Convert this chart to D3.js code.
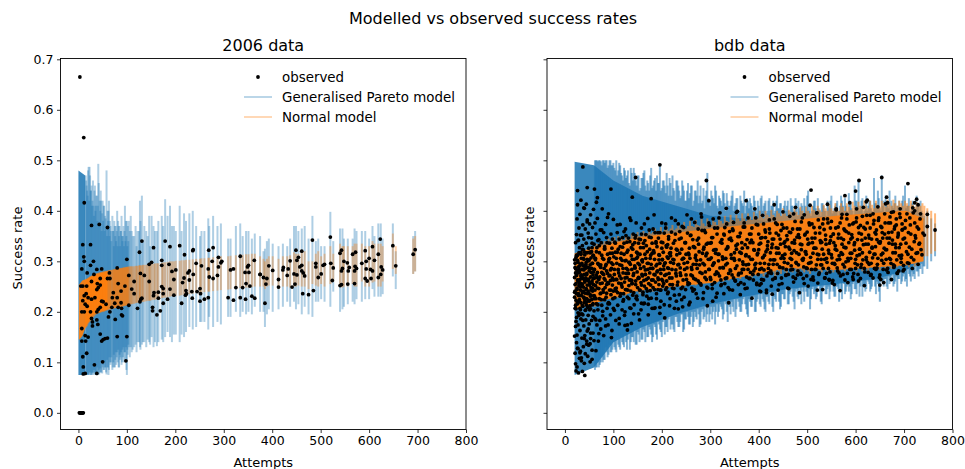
<!DOCTYPE html>
<html lang="en">
<head>
<meta charset="UTF-8">
<title>Modelled vs observed success rates</title>
<script src="https://cdn.jsdelivr.net/npm/d3@7"></script>
<style>
  body { margin: 0; background: #fff; }
  text { font-family: "DejaVu Sans", sans-serif; fill: #000; }
</style>
</head>
<body>
<div id="chart"></div>
<script>
// all values; the black mass on the right is only a best estimate
const xTicks = [0, 100, 200, 300, 400, 500, 600, 700, 800]
const yTicks = [0, 0.1, 0.2, 0.3, 0.4, 0.5, 0.6, 0.7]
const legendLabels = ['observed', 'Generalised Pareto model', 'Normal model']

// 2006 data, observed points
const obsX2006 = [3,11,12,27,43,60,2,3,4,5,6,7,8,9,10,
  9,25,131,179,155,189,209,236,237,269,278,126,219,11,12,31,25,100,172,276,289,296,294,334,363,146,151,172,187,243,254,351,349,
  7,38,48,80,18,32,64,201,193,229,226,268,289,314,320,344,352,375,104,128,136,237,270,287,278,45,60,65,27,96,115,146,197,218,229,215,82,
  39,45,41,38,5,9,17,172,175,189,110,72,88,234,222,223,245,252,251,325,339,346,354,165,156,155,175,115,197,16,12,20,27,34,70,80,131,165,
  235,221,309,320,334,345,358,364,268,260,251,9,14,18,48,51,57,75,88,104,184,175,127,129,213,69,82,89,122,153,153,41,45,38,7,12,25,65,
  169,162,89,91,62,76,27,29,29,40,38,7,14,20,45,80,100,7,15,48,51,55,60,17,9,50,98,10,33,14,10,38,
  483,520,623,449,461,543,540,572,566,592,607,619,600,649,695,691,655,393,401,437,454,451,461,457,422,423,433,431,445,451,464,461,467,
  382,375,389,413,413,387,385,441,447,463,475,485,495,501,505,508,490,490,521,526,524,540,543,556,570,543,545,548,555,559,557,571,570,574,
  585,594,594,603,607,611,592,596,604,619,624,628,625]
const obsY2006 = [.665,.545,.416,.371,.373,.367,0,0,0,0,0,0,0,0,0,
  .333,.333,.34,.34,.327,.329,.331,.321,.323,.322,.327,.318,.313,.309,.3,.3,.292,.304,.302,.3,.308,.3,.297,.31,.302,.294,.298,.292,.294,.296,.291,.292,.289,
  .285,.284,.285,.287,.277,.274,.277,.283,.28,.281,.277,.285,.289,.283,.285,.278,.278,.274,.272,.276,.272,.274,.269,.272,.266,.266,.266,.266,.26,.251,.26,.26,.264,.267,.263,.258,.256,
  .256,.253,.248,.244,.251,.251,.251,.25,.246,.245,.245,.238,.241,.24,.242,.236,.24,.236,.246,.248,.248,.256,.251,.239,.238,.232,.236,.236,.233,.236,.232,.228,.225,.228,.228,.228,.227,.227,
  .227,.233,.228,.223,.228,.225,.231,.227,.228,.225,.221,.222,.215,.211,.221,.22,.215,.217,.218,.213,.225,.217,.22,.225,.217,.209,.209,.207,.207,.209,.202,.205,.209,.2,.2,.2,.2,.2,
  .202,.194,.194,.192,.19,.185,.187,.18,.172,.175,.184,.167,.153,.15,.156,.151,.151,.142,.142,.142,.145,.147,.148,.118,.111,.101,.103,.091,.095,.078,.077,.078,
  .342,.348,.344,.322,.32,.322,.316,.318,.314,.321,.329,.314,.306,.331,.323,.314,.291,.291,.282,.301,.308,.302,.292,.289,.283,.288,.285,.272,.275,.273,.277,.281,.271,
  .268,.274,.266,.264,.249,.255,.217,.249,.255,.236,.234,.242,.268,.275,.292,.294,.296,.289,.296,.287,.262,.252,.254,.255,.256,.281,.286,.3,.297,.288,.281,.29,.281,.286,
  .296,.3,.285,.284,.281,.302,.266,.261,.266,.268,.274,.283,.289]

// 2006 data, intervals
const bandX2006 = [16,18,21,23,25,27,29,31,33,36, 38,41,44,47,50,53,55,58,60,62, 65,67,71,75,80,83,87,90,96,100,
  104,110,115,122,127,131,136,146,151,155, 162,165,172,175,179,184,189,193,197,201, 209,213,218,222,229,236,243,251,254,260,
  268,270,278,287,294,309,314,325,334,339, 346,351,358,364,375,382,385,389,393,401, 413,422,431,437,445,449,454,461,467,475,
  483,490,495,501,508,520,526,540,545,548, 556,566,570,574,585,592,600,607,611,619, 624,628,649,655,691,695,
  15,17,19,20,22,24,26,28,30,32, 34,35,37,39,40,42,43,45,46,48, 49,51,52,54,56,57,59,61,63,64,
  66,68,70,72,73,74,76,77,78,79, 81,82,84,85,86,88,89,91,92,93, 94,95,97,98,99,101,102,103,106,108,
  112,118,120,125,128,133,140,143,148,158]
const gpLo2006 = [.075,.075,.075,.08,.075,.075,.08,.08,.078,.08, .075,.076,.08,.08,.09,.085,.09,.076,.09,.075, .1,.1,.09,.09,.12,.09,.11,.1,.12,.075,
  .13,.12,.13,.14,.13,.135,.14,.14,.15,.13, .132,.14,.145,.14,.15,.16,.15,.14,.155,.155, .14,.155,.15,.16,.17,.165,.17,.18,.18,.18,
  .165,.19,.17,.18,.175,.19,.19,.2,.19,.2, .195,.2,.195,.21,.2,.2,.17,.195,.205,.2, .205,.21,.22,.21,.22,.205,.215,.195,.21,.195,
  .19,.22,.22,.225,.22,.21,.24,.2,.205,.21, .215,.22,.215,.225,.22,.225,.225,.245,.23,.23, .23,.235,.27,.245,.275,.28,
  .075,.075,.077,.075,.076,.08,.075,.078,.075,.085, .075,.08,.075,.09,.078,.085,.076,.088,.08,.1, .078,.095,.085,.1,.09,.08,.105,.09,.085,.11,
  .095,.11,.085,.1,.115,.09,.105,.12,.095,.11, .1,.125,.09,.115,.105,.12,.095,.125,.11,.13, .1,.12,.105,.13,.085,.125,.115,.135,.11,.13,
  .125,.135,.12,.14,.125,.14,.13,.145,.135,.14]
const gpHi2006 = [.46,.44,.487,.487,.44,.45,.42,.41,.44,.41, .43,.493,.42,.42,.42,.41,.39,.48,.4,.4, .38,.36,.36,.37,.4,.37,.36,.35,.41,.38,
  .38,.36,.35,.36,.42,.43,.37,.39,.39,.37, .36,.38,.39,.37,.423,.39,.41,.37,.37,.36, .41,.36,.395,.38,.395,.4,.37,.35,.36,.36,
  .385,.37,.39,.37,.375,.345,.345,.37,.375,.35, .36,.36,.345,.355,.35,.32,.325,.34,.345,.335, .33,.335,.33,.345,.37,.37,.36,.365,.37,.345,
  .39,.34,.345,.33,.33,.398,.34,.365,.365,.345, .345,.345,.365,.36,.36,.36,.345,.37,.35,.375, .375,.345,.375,.32,.35,.36,
  .47,.45,.43,.48,.42,.47,.44,.41,.46,.39, .45,.4,.43,.38,.41,.455,.37,.4,.44,.36, .395,.38,.41,.36,.385,.37,.35,.38,.42,.35,
  .37,.34,.39,.36,.33,.38,.35,.37,.34,.36, .33,.38,.35,.37,.33,.36,.39,.34,.35,.37, .33,.36,.34,.38,.35,.33,.37,.34,.36,.39,
  .35,.37,.33,.36,.38,.34,.36,.35,.33,.36]
const nLo2006 = [.17,.172,.178,.18,.182,.185,.188,.19,.192,.195, .196,.197,.198,.199,.2,.2,.202,.203,.204,.204, .205,.205,.206,.207,.208,.209,.21,.21,.212,.213,
  .214,.215,.216,.218,.219,.22,.22,.222,.223,.224, .225,.226,.227,.228,.228,.229,.23,.231,.231,.232, .232,.233,.234,.234,.235,.236,.237,.238,.238,.239,
  .24,.24,.241,.242,.243,.244,.245,.246,.247,.247, .248,.248,.249,.25,.25,.25,.245,.25,.252,.252, .245,.25,.25,.248,.25,.25,.252,.25,.25,.245,
  .255,.252,.25,.255,.25,.255,.26,.25,.248,.25, .25,.255,.25,.25,.26,.25,.25,.258,.26,.25, .25,.26,.285,.275,.275,.28,
  .168,.171,.175,.177,.18,.183,.186,.188,.19,.192, .194,.195,.196,.197,.197,.198,.198,.199,.199,.2, .2,.201,.201,.202,.202,.203,.203,.204,.205,.205,
  .205,.206,.206,.207,.207,.207,.208,.208,.208,.208, .209,.209,.209,.21,.21,.21,.21,.211,.211,.211, .212,.212,.212,.213,.213,.213,.214,.214,.214,.215,
  .216,.217,.218,.218,.219,.22,.221,.222,.222,.224]
const nHi2006 = [.262,.264,.266,.268,.27,.27,.272,.272,.274,.275, .276,.276,.277,.278,.278,.279,.28,.28,.281,.281, .282,.282,.283,.284,.285,.285,.286,.286,.287,.288,
  .288,.29,.29,.291,.292,.292,.293,.294,.295,.295, .296,.296,.297,.298,.298,.299,.3,.3,.3,.301, .301,.302,.302,.303,.303,.304,.305,.305,.306,.306,
  .307,.307,.308,.309,.31,.31,.311,.312,.313,.313, .314,.314,.315,.315,.31,.305,.3,.305,.31,.31, .305,.31,.31,.312,.318,.315,.315,.318,.32,.3,
  .3,.315,.32,.31,.315,.33,.315,.335,.33,.33, .33,.33,.335,.335,.335,.33,.33,.34,.335,.335, .335,.33,.355,.33,.345,.35,
  .262,.263,.265,.266,.268,.27,.27,.272,.272,.273, .274,.275,.276,.276,.277,.277,.278,.278,.278,.279, .279,.28,.28,.28,.281,.281,.281,.282,.282,.282,
  .283,.283,.283,.284,.284,.284,.285,.285,.285,.285, .285,.286,.286,.286,.286,.287,.287,.287,.287,.288, .288,.288,.288,.289,.289,.289,.289,.29,.29,.29,
  .29,.291,.291,.292,.292,.293,.293,.294,.294,.296]

// 2006 data, where the low attempt intervals pile up into a solid block
const gpCoreX2006 = [0, 14]
const gpCoreLo2006 = [.075, .075]
const gpCoreHi2006 = [.48, .47]
const nCoreX2006 = [1, 8, 16, 30, 60]
const nCoreLo2006 = [.144, .152, .172, .195, .205]
const nCoreHi2006 = [.253, .262, .265, .272, .28]

// bdb data, solid blocks
const gpCoreXBdb = [20, 60, 100, 160, 230, 300, 370, 460, 560, 640, 700, 740]
const gpCoreLoBdb = [.075, .09, .14, .17, .195, .215, .23, .245, .255, .265, .28, .305]
const gpCoreHiBdb = [.497, .49, .46, .43, .41, .39, .385, .375, .375, .375, .37, .35]
const nCoreXBdb = [20, 60, 157, 300, 462, 560, 703, 740]
const nCoreLoBdb = [.204, .217, .243, .257, .287, .283, .292, .3]
const nCoreHiBdb = [.316, .328, .348, .365, .381, .39, .4, .385]

// bdb data, intervals along the edge of the blocks
const bandXBdb = [62,66,70,74,78,82,86,90,94,98, 102,106,110,114,118,122,126,130,134,138, 142,146,150,154,158,162,166,170,174,178,
  182,186,190,194,198,202,206,210,214,218, 222,226,230,234,238,242,246,250,254,258, 262,266,270,274,278,282,286,290,294,298,
  302,306,310,314,318,322,326,330,334,338, 342,346,350,354,358,362,366,370,374,378, 382,386,390,394,398,402,406,410,414,418,
  422,426,430,434,438,442,446,450,454,458, 462,466,470,474,478,482,486,490,494,498, 502,506,510,514,518,522,526,530,534,538,
  542,546,550,554,558,562,566,570,574,578, 582,586,590,594,598,602,606,610,614,618, 622,626,630,634,638,642,646,650,654,658,
  662,666,670,674,678,682,686,690,694,698, 702,706,710,714,718,722,726,730,734,738, 742,748,756,764]
const gpLoBdb = [.085,.09,.09,.1,.1,.105,.12,.115,.12,.125, .13,.12,.135,.125,.14,.13,.14,.145,.125,.15, .14,.135,.16,.14,.145,.165,.14,.15,.17,.155,
  .15,.17,.145,.175,.16,.18,.155,.17,.185,.165, .175,.16,.19,.17,.18,.195,.165,.185,.19,.175, .2,.18,.19,.205,.17,.2,.185,.21,.195,.18,
  .21,.2,.175,.215,.2,.21,.185,.22,.2,.215, .195,.21,.225,.205,.22,.2,.215,.23,.205,.19, .22,.21,.23,.2,.225,.215,.235,.22,.2,.23,
  .215,.235,.2,.225,.24,.22,.21,.235,.225,.245, .215,.24,.23,.205,.245,.225,.235,.25,.22,.24, .23,.205,.245,.235,.225,.25,.24,.215,.25,.235,
  .245,.225,.255,.24,.23,.25,.22,.245,.26,.235, .25,.24,.225,.255,.245,.235,.26,.25,.23,.255, .245,.26,.24,.25,.265,.235,.255,.22,.26,.25,
  .265,.245,.255,.27,.25,.26,.24,.265,.255,.27, .26,.25,.275,.26,.27,.265,.28,.27,.285,.275, .29,.285,.3,.31]
const gpHiBdb = [.5,.5,.5,.498,.5,.495,.5,.49,.5,.49, .485,.5,.48,.49,.47,.485,.465,.48,.45,.475, .485,.46,.47,.44,.465,.475,.45,.46,.44,.485,
  .45,.465,.47,.455,.44,.46,.45,.475,.43,.455, .47,.44,.46,.45,.425,.46,.44,.42,.455,.435, .45,.42,.44,.46,.43,.415,.445,.43,.475,.42,
  .44,.425,.45,.41,.43,.42,.44,.415,.435,.41, .42,.44,.41,.425,.4,.43,.415,.44,.41,.42, .425,.41,.43,.405,.42,.4,.43,.41,.42,.4,
  .425,.41,.42,.4,.43,.405,.415,.4,.42,.41, .4,.425,.41,.4,.415,.42,.4,.41,.425,.4, .44,.41,.4,.42,.405,.425,.4,.415,.41,.4,
  .42,.405,.43,.4,.41,.42,.4,.43,.41,.425, .4,.435,.415,.4,.45,.42,.46,.41,.425,.4, .43,.41,.42,.4,.465,.415,.44,.405,.47,.42,
  .43,.41,.44,.42,.405,.43,.41,.42,.4,.43, .45,.41,.425,.4,.42,.405,.43,.41,.42,.395, .39,.4,.385,.375]
const nLoBdb = [.21,.215,.22,.22,.225,.22,.23,.225,.23,.232, .23,.235,.228,.24,.235,.24,.232,.24,.238,.24, .235,.245,.24,.235,.245,.24,.248,.24,.245,.25,
  .24,.25,.245,.252,.248,.245,.255,.25,.248,.255, .25,.258,.252,.25,.26,.255,.25,.26,.255,.262, .255,.26,.252,.262,.258,.255,.265,.258,.26,.265,
  .26,.268,.262,.258,.27,.265,.26,.27,.265,.262, .272,.268,.262,.275,.268,.265,.275,.27,.265,.278, .27,.268,.28,.272,.27,.282,.275,.27,.282,.278,
  .275,.285,.278,.27,.285,.28,.275,.288,.28,.275, .285,.28,.278,.288,.28,.275,.29,.282,.278,.29, .28,.275,.29,.285,.28,.29,.282,.278,.292,.285,
  .28,.292,.285,.278,.29,.285,.28,.292,.285,.28, .29,.285,.28,.295,.285,.28,.29,.285,.28,.295, .285,.28,.292,.288,.282,.295,.29,.282,.295,.29,
  .285,.298,.29,.285,.3,.292,.288,.298,.29,.288, .3,.292,.288,.3,.295,.29,.302,.295,.305,.3, .31,.31,.315,.32]
const nHiBdb = [.33,.335,.33,.338,.335,.34,.338,.345,.34,.342, .348,.34,.35,.345,.348,.342,.352,.348,.345,.355, .35,.348,.358,.35,.352,.36,.352,.355,.362,.355,
  .358,.365,.355,.36,.368,.358,.362,.37,.36,.365, .372,.362,.365,.375,.365,.368,.378,.365,.37,.38, .37,.368,.382,.372,.37,.384,.375,.37,.385,.375,
  .372,.388,.378,.372,.39,.38,.375,.39,.38,.378, .392,.382,.378,.392,.385,.38,.395,.385,.38,.395, .388,.382,.398,.39,.385,.4,.39,.385,.4,.392,
  .388,.402,.392,.388,.4,.395,.39,.405,.395,.39, .402,.398,.392,.405,.398,.392,.408,.4,.395,.408, .4,.395,.41,.402,.398,.41,.402,.398,.412,.405,
  .4,.412,.405,.4,.415,.405,.4,.415,.408,.4, .415,.408,.402,.418,.41,.405,.418,.41,.405,.42, .41,.405,.42,.412,.405,.42,.412,.408,.42,.415,
  .408,.422,.415,.41,.422,.415,.41,.42,.415,.41, .42,.415,.41,.42,.412,.408,.418,.412,.41,.415, .41,.405,.4,.395]

// bdb data, more blue intervals between the ones above (only the blue shows here)
const extraXBdb = [64,68,72,76,80,84,88,92,96,100, 104,108,112,116,120,124,128,132,136,140, 144,148,152,156,160,164,168,172,176,180,
  184,188,192,196,200,204,208,212,216,220, 224,228,232,236,240,244,248,252,256,260, 264,268,272,276,280,284,288,292,296,300,
  304,308,312,316,320,324,328,332,336,340, 344,348,352,356,360,364,368,372,376,380, 384,388,392,396,400,404,408,412,416,420,
  424,428,432,436,440,444,448,452,456,460, 464,468,472,476,480,484,488,492,496,500, 504,508,512,516,520,524,528,532,536,540,
  544,548,552,556,560,564,568,572,576,580, 584,588,592,596,600,604,608,612,616,620, 624,628,632,636,640,644,648,652,656,660,
  664,668,672,676,680,684,688,692,696,700, 704,708,712,716,720,724,728,732,736,740]
const extraLoBdb = [.09,.1,.095,.11,.105,.13,.11,.135,.12,.14, .125,.145,.13,.15,.135,.155,.125,.16,.14,.15, .165,.135,.155,.17,.145,.16,.175,.15,.165,.14,
  .175,.155,.18,.165,.15,.185,.17,.16,.19,.175, .165,.19,.18,.17,.195,.16,.185,.2,.175,.19, .17,.2,.185,.195,.175,.205,.19,.18,.21,.195,
  .185,.21,.2,.19,.215,.205,.195,.215,.18,.21, .22,.2,.19,.225,.21,.2,.225,.215,.195,.225, .21,.23,.2,.22,.235,.21,.225,.205,.23,.22,
  .24,.21,.23,.22,.24,.205,.235,.225,.245,.215, .235,.25,.22,.24,.23,.25,.215,.24,.255,.23, .245,.225,.25,.24,.23,.255,.22,.245,.26,.235,
  .25,.24,.26,.23,.25,.245,.26,.225,.255,.24, .26,.25,.235,.265,.245,.255,.23,.265,.25,.24, .265,.255,.245,.27,.25,.26,.24,.27,.255,.265,
  .25,.27,.26,.275,.255,.27,.265,.28,.26,.275, .265,.285,.27,.28,.275,.29,.28,.285,.295,.29]
const extraHiBdb = [.5,.498,.5,.49,.5,.5,.485,.5,.49,.495, .48,.47,.495,.475,.46,.48,.47,.455,.485,.46, .475,.45,.47,.445,.465,.48,.44,.455,.47,.445,
  .46,.44,.455,.49,.445,.46,.435,.45,.465,.43, .445,.42,.46,.44,.43,.45,.42,.44,.425,.45, .41,.44,.43,.415,.45,.42,.405,.44,.425,.41,
  .43,.415,.44,.405,.425,.41,.435,.4,.42,.41, .43,.4,.415,.425,.4,.42,.41,.395,.425,.405, .415,.4,.42,.395,.41,.425,.4,.415,.395,.42,
  .4,.41,.395,.42,.405,.415,.39,.41,.4,.42, .395,.41,.4,.425,.39,.405,.415,.395,.41,.43, .4,.39,.41,.42,.395,.405,.39,.415,.4,.39,
  .41,.42,.395,.405,.415,.39,.41,.42,.4,.41, .395,.42,.405,.39,.42,.41,.4,.42,.395,.41, .4,.42,.405,.395,.415,.41,.425,.4,.41,.395,
  .42,.405,.395,.41,.415,.4,.41,.395,.42,.4, .405,.41,.39,.415,.4,.395,.41,.39,.4,.385]

// bdb data, observed points
const obsXBdb = [20,20,21,21,21,22,22,22,23,23,23,24,24,24,25,25,25,26,26,26,
  26,27,27,27,28,28,28,29,29,29,30,30,30,30,31,31,31,32,32,32,
  33,33,33,34,34,34,35,35,35,36,36,36,37,37,37,38,38,38,39,39,
  39,40,40,40,41,41,41,42,42,42,43,43,44,44,44,45,45,45,46,46,
  46,47,47,48,48,48,49,49,50,50,50,51,51,52,52,53,53,53,54,54,
  55,55,56,56,56,57,57,58,58,59,59,60,60,60,61,61,62,62,63,63,
  64,64,65,65,66,66,67,67,68,68,69,70,70,71,71,72,73,73,74,74,
  75,76,76,77,78,78,79,80,80,81,82,82,83,84,84,85,86,86,87,88,
  88,89,90,90,91,92,92,93,94,95,95,96,97,98,98,99,100,100,102,103,
  104,105,106,107,108,109,110,111,112,113,114,115,116,117,118,119,120,121,122,123,
  124,125,126,127,128,129,130,131,132,133,134,135,136,137,138,139,140,141,142,143,
  144,145,146,147,148,149,150,151,152,153,154,155,156,157,158,159,160,161,162,163,
  164,165,166,167,168,170,171,172,173,175,176,177,178,180,181,182,184,185,186,188,
  189,190,192,193,194,196,197,198,200,201,202,204,205,206,208,209,210,212,213,214,
  216,217,218,220,221,222,224,225,226,228,229,230,232,233,234,236,237,238,240,241,
  242,244,245,246,248,249,250,252,253,254,256,257,258,260,261,262,264,265,266,268,
  270,271,273,275,276,278,280,281,283,285,286,288,290,292,293,295,297,298,300,302,
  304,305,307,309,310,312,314,316,318,320,322,324,326,328,330,332,334,336,338,340,
  342,344,346,348,350,352,354,356,358,360,362,364,366,368,370,372,374,376,378,380,
  382,384,386,388,390,392,394,396,398,400,402,404,406,408,410,412,414,416,418,420,
  422,424,426,428,430,432,434,436,438,440,442,444,446,448,450,452,454,456,458,460,
  462,464,466,468,470,472,474,476,478,480,482,484,486,488,490,492,494,496,498,500,
  502,504,506,508,510,512,514,516,518,520,522,524,526,528,530,532,534,536,538,540,
  542,544,546,548,550,552,554,556,558,560,562,564,566,568,570,572,574,576,578,580,
  582,584,586,588,590,592,594,596,598,600,602,604,606,608,610,612,614,616,618,620,
  622,624,626,628,630,632,634,636,638,640,642,644,646,648,650,652,654,656,658,660,
  662,664,666,668,670,672,674,676,678,680,682,684,686,688,690,692,694,696,698,700,
  702,704,706,708,710,712,714,716,718,720,722,724,726,728,730,732,734,737,742,748,
  748,764,37,196,146,292,26,46,61,95,139,178,297,333,67,65,129,137,230,243,
  305,196,184,172,158,124,56,41,374,508,607,654,708,600,578,622,664,722,729,722,
  521,428,404,402,650,545]
const obsYBdb = [.303,.152,.207,.254,.118,.286,.097,.337,.223,.181,.083,.272,.353,.139,.244,.384,.091,.216,.312,.412,
  .263,.174,.298,.127,.236,.342,.079,.193,.284,.366,.221,.108,.327,.258,.163,.393,.291,.204,.249,.122,
  .314,.186,.421,.273,.103,.232,.352,.148,.296,.212,.331,.082,.267,.194,.372,.131,.306,.241,.172,.344,
  .283,.098,.227,.405,.318,.153,.262,.203,.364,.117,.293,.184,.246,.413,.336,.142,.274,.213,.382,.162,
  .304,.236,.112,.356,.193,.264,.134,.326,.221,.287,.176,.374,.253,.101,.317,.206,.392,.147,.278,.233,
  .346,.183,.296,.124,.257,.367,.214,.312,.158,.266,.403,.202,.334,.143,.284,.231,.376,.187,.306,.252,
  .123,.354,.216,.273,.327,.174,.247,.385,.204,.296,.142,.343,.264,.226,.317,.183,.362,.256,.293,.166,
  .337,.213,.278,.404,.192,.306,.244,.357,.153,.286,.224,.326,.263,.373,.186,.294,.237,.347,.207,.276,
  .314,.174,.256,.394,.304,.216,.336,.272,.194,.354,.243,.297,.163,.316,.267,.226,.383,.207,.284,.338,
  .246,.183,.306,.264,.357,.213,.324,.277,.176,.293,.373,.236,.316,.253,.204,.347,.286,.224,.336,.193,
  .267,.364,.302,.244,.318,.174,.283,.346,.226,.263,.386,.294,.207,.327,.256,.304,.233,.354,.276,.214,
  .337,.287,.254,.376,.306,.224,.316,.266,.196,.344,.293,.243,.327,.204,.366,.274,.303,.234,.336,.262,
  .217,.314,.283,.353,.246,.296,.385,.267,.226,.324,.306,.253,.347,.207,.286,.364,.317,.244,.273,.336,
  .226,.294,.357,.264,.313,.197,.284,.243,.376,.304,.337,.256,.214,.296,.366,.274,.328,.236,.306,.344,
  .267,.226,.317,.386,.284,.247,.336,.303,.207,.354,.276,.324,.253,.293,.374,.234,.316,.277,.346,.224,
  .304,.263,.367,.296,.337,.244,.314,.287,.356,.254,.214,.326,.306,.273,.384,.247,.343,.294,.266,.327,
  .312,.236,.286,.364,.334,.257,.303,.394,.276,.226,.324,.293,.357,.264,.316,.247,.376,.284,.336,.307,
  .254,.347,.296,.366,.274,.323,.237,.314,.386,.287,.263,.336,.304,.354,.256,.293,.374,.327,.276,.244,
  .346,.306,.364,.267,.317,.286,.397,.334,.254,.303,.356,.277,.326,.294,.376,.246,.313,.343,.284,.266,
  .337,.304,.366,.274,.323,.293,.386,.257,.316,.354,.284,.336,.264,.307,.374,.296,.347,.243,.324,.286,
  .364,.317,.276,.334,.303,.384,.267,.356,.294,.326,.254,.344,.306,.373,.287,.336,.314,.273,.366,.296,
  .246,.324,.357,.304,.284,.394,.336,.266,.317,.364,.293,.347,.276,.323,.386,.306,.256,.354,.314,.286,
  .334,.376,.297,.264,.346,.316,.367,.284,.326,.396,.304,.274,.356,.337,.293,.374,.314,.267,.343,.306,
  .384,.286,.336,.366,.313,.257,.354,.296,.324,.404,.303,.346,.277,.376,.317,.334,.294,.364,.263,.327,
  .393,.306,.356,.284,.344,.316,.374,.276,.337,.304,.386,.293,.367,.324,.266,.354,.317,.407,.286,.346,
  .303,.376,.334,.294,.366,.274,.326,.394,.314,.357,.284,.343,.306,.386,.336,.264,.367,.316,.296,.354,
  .414,.323,.286,.376,.346,.304,.397,.334,.293,.364,.317,.384,.276,.356,.327,.404,.306,.374,.344,.284,
  .366,.336,.394,.314,.296,.386,.354,.324,.406,.303,.376,.346,.423,.317,.364,.336,.394,.313,.352,.393,
  .369,.362,.487,.491,.466,.46,.44,.446,.443,.443,.427,.424,.42,.405,.426,.417,.164,.177,.221,.21,
  .221,.209,.207,.215,.217,.2,.106,.074,.42,.441,.46,.466,.454,.439,.43,.418,.427,.416,.412,.4,
  .243,.235,.24,.253,.253,.264]

// bdb data, the thick middle of the cloud
const denseXBdb = [20,20,21,21,22,22,23,23,24,24,25,25,26,26,27,27,28,28,29,29,
  30,30,31,31,32,32,33,33,34,34,35,35,36,36,37,37,38,38,39,39,
  40,40,41,41,42,42,43,43,44,44,45,45,46,46,47,47,48,48,49,49,
  50,50,51,51,52,52,53,53,54,54,55,55,56,56,57,57,58,58,59,59,
  60,60,61,62,63,64,65,66,67,68,69,70,71,72,73,74,75,76,77,78,
  79,80,81,82,83,84,85,86,87,88,89,90,91,92,93,94,95,96,97,98,
  99,100,101,102,103,104,105,106,107,108,109,110,111,112,113,114,115,116,117,118,
  119,120,121,122,123,124,125,126,127,128,129,130,131,132,133,134,135,136,137,138,
  139,140,141,142,143,144,145,146,147,148,149,150,151,152,153,154,155,156,157,158,
  159,160,161,162,163,164,165,166,167,168,169,170,171,172,173,174,175,176,177,178,
  179,180,181,182,183,184,185,186,187,188,189,190,191,192,193,194,195,196,197,198,
  199,200,201,202,203,204,205,206,207,208,209,210,211,212,213,214,215,216,217,218,
  219,221,223,225,227,229,231,233,235,237,239,241,243,245,247,249,251,253,255,257,
  259,261,263,265,267,269,271,273,275,277,279,281,283,285,287,289,291,293,295,297,
  299,301,303,305,307,309,311,313,315,317,319,321,323,325,327,329,331,333,335,337,
  339,341,343,345,347,349,351,353,355,357,359,361,363,365,367,369,371,373,375,377,
  379,381,383,385,387,389,391,393,395,397,399,401,403,405,407,409,411,413,415,417,
  419,421,423,425,427,429,431,433,435,437,439,441,443,445,447,449,451,453,455,457,
  459,461,463,465,467,469,471,473,475,477,479,481,483,485,487,489,491,493,495,497,
  499,501,503,505,507,509,511,513,515,517,519,521,523,525,527,529,531,533,535,537,
  539,541,543,545,547,549,551,553,555,557,559,561,563,565,567,569,571,573,575,577,
  579,581,583,585,587,589,591,593,595,597,599,601,603,605,607,609,611,613,615,617,
  619,621,623,625,627,629,631,633,635,637,639,641,643,645,647,649,651,653,655,657,
  659,661,663,665,667,669,671,673,675,677,679,681,683,685,687,689,691,693,695,697,
  699,701,703,705,707,709,711,713,715,717,719,721,723,725,727,729,731,733,735,739]
const denseYBdb = [.268,.229,.241,.296,.213,.277,.256,.308,.236,.189,.282,.247,.219,.302,.261,.198,.289,.233,.317,.252,
  .224,.279,.264,.207,.294,.243,.271,.218,.306,.256,.196,.284,.238,.323,.266,.211,.291,.249,.229,.304,
  .274,.218,.259,.313,.237,.286,.204,.267,.244,.298,.226,.276,.317,.253,.209,.288,.241,.264,.301,.223,
  .281,.236,.318,.258,.212,.293,.269,.231,.307,.248,.224,.286,.261,.327,.241,.296,.216,.273,.254,.311,
  .232,.284,.267,.243,.303,.226,.319,.259,.278,.214,.294,.246,.331,.269,.236,.288,.224,.312,.257,.276,
  .239,.304,.266,.324,.248,.291,.229,.281,.337,.258,.216,.299,.271,.243,.316,.262,.234,.286,.326,.253,
  .294,.241,.309,.274,.228,.336,.264,.247,.296,.318,.238,.283,.257,.344,.271,.231,.306,.266,.292,.249,
  .328,.277,.236,.314,.259,.301,.244,.351,.286,.268,.229,.322,.276,.252,.298,.339,.263,.241,.311,.284,
  .256,.333,.272,.238,.304,.291,.346,.261,.227,.318,.279,.248,.296,.336,.267,.243,.314,.286,.258,.354,
  .302,.271,.239,.327,.289,.251,.341,.274,.306,.264,.231,.319,.284,.296,.256,.348,.277,.242,.312,.294,
  .263,.336,.286,.248,.321,.274,.304,.357,.259,.291,.236,.329,.281,.267,.346,.254,.312,.296,.243,.276,
  .338,.264,.303,.251,.318,.284,.356,.272,.297,.244,.331,.261,.309,.287,.239,.349,.276,.316,.254,.298,
  .326,.267,.304,.246,.341,.283,.313,.259,.294,.359,.272,.324,.249,.306,.284,.337,.264,.298,.316,.256,
  .351,.288,.271,.329,.244,.307,.294,.342,.261,.319,.278,.253,.361,.296,.328,.268,.311,.249,.336,.284,
  .304,.264,.347,.292,.322,.258,.316,.279,.366,.301,.271,.338,.254,.309,.287,.352,.266,.324,.296,.248,
  .344,.283,.313,.273,.361,.306,.262,.331,.291,.349,.276,.318,.258,.337,.299,.284,.368,.311,.269,.327,
  .294,.354,.278,.342,.304,.263,.322,.286,.373,.313,.274,.334,.296,.256,.347,.308,.283,.362,.319,.271,
  .339,.294,.356,.281,.327,.264,.344,.303,.376,.316,.276,.352,.289,.334,.267,.311,.366,.298,.329,.284,
  .343,.274,.358,.306,.291,.337,.269,.321,.379,.298,.348,.281,.314,.364,.274,.333,.302,.289,.352,.319,
  .271,.344,.296,.372,.308,.284,.337,.263,.326,.356,.293,.314,.382,.277,.341,.304,.324,.286,.363,.267,
  .334,.298,.376,.316,.279,.349,.307,.262,.337,.294,.366,.322,.281,.354,.304,.271,.386,.314,.343,.289,
  .327,.359,.276,.301,.372,.316,.284,.347,.264,.333,.296,.378,.311,.274,.356,.324,.288,.342,.303,.367,
  .279,.334,.391,.298,.352,.318,.272,.344,.307,.374,.286,.329,.362,.294,.381,.268,.339,.313,.357,.284,
  .326,.376,.304,.346,.278,.336,.388,.296,.358,.317,.288,.369,.327,.303,.348,.281,.394,.334,.312,.363,
  .292,.346,.381,.319,.297,.357,.328,.372,.308,.286,.396,.339,.351,.316,.368,.294,.334,.384,.323,.356]

// bdb data, a further layer of the cloud
const cloudXBdb = [20,22,24,26,28,30,32,34,36,38,40,42,44,46,48,50,52,54,56,58,
  21,23,25,27,29,31,33,35,37,39,41,43,45,47,49,51,53,55,57,59,
  60,62,64,66,68,70,72,74,76,78,80,82,84,86,88,90,92,94,96,98,
  100,102,104,106,108,110,112,114,116,118,120,122,124,126,128,130,132,134,136,138,
  140,142,144,146,148,150,152,154,156,158,160,162,164,166,168,170,172,174,176,178,
  180,182,184,186,188,190,192,194,196,198,200,202,204,206,208,210,212,214,216,218,
  220,222,224,226,228,230,232,234,236,238,240,242,244,246,248,250,252,254,256,258,
  260,262,264,266,268,270,272,274,276,278,280,282,284,286,288,290,292,294,296,298,
  300,302,304,306,308,310,312,314,316,318,320,322,324,326,328,330,332,334,336,338,
  340,342,344,346,348,350,352,354,356,358,360,362,364,366,368,370,372,374,376,378,
  380,382,384,386,388,390,392,394,396,398,400,402,404,406,408,410,412,414,416,418,
  420,422,424,426,428,430,432,434,436,438,440,442,444,446,448,450,452,454,456,458,
  460,462,464,466,468,470,472,474,476,478,480,482,484,486,488,490,492,494,496,498,
  500,502,504,506,508,510,512,514,516,518,520,522,524,526,528,530,532,534,536,538,
  540,542,544,546,548,550,552,554,556,558,560,562,564,566,568,570,572,574,576,578,
  580,582,584,586,588,590,592,594,596,598,600,602,604,606,608,610,612,614,616,618,
  620,622,624,626,628,630,632,634,636,638,640,642,644,646,648,650,652,654,656,658,
  660,662,664,666,668,670,672,674,676,678,680,682,684,686,688,690,692,694,696,698]
const cloudYBdb = [.239,.171,.312,.128,.277,.196,.352,.109,.254,.323,.147,.288,.219,.378,.166,.303,.137,.243,.336,.191,
  .288,.206,.154,.341,.232,.119,.317,.268,.183,.406,.224,.293,.136,.262,.347,.204,.158,.319,.247,.279,
  .226,.306,.184,.268,.341,.157,.291,.237,.362,.201,.274,.329,.172,.254,.387,.218,.306,.283,.149,.344,
  .263,.203,.318,.241,.372,.284,.187,.329,.256,.302,.221,.359,.173,.276,.338,.243,.298,.208,.381,.262,
  .324,.196,.287,.351,.231,.309,.268,.184,.343,.253,.299,.216,.374,.274,.331,.241,.194,.362,.286,.227,
  .316,.263,.392,.208,.339,.279,.244,.303,.357,.221,.326,.261,.291,.188,.374,.248,.333,.286,.212,.311,
  .358,.254,.296,.233,.381,.271,.322,.206,.344,.287,.246,.369,.306,.229,.337,.273,.392,.258,.313,.219,
  .352,.284,.241,.329,.377,.264,.302,.227,.346,.293,.256,.388,.316,.238,.361,.279,.334,.212,.304,.371,
  .268,.337,.246,.384,.297,.323,.229,.354,.276,.314,.396,.252,.343,.288,.236,.367,.306,.267,.329,.218,
  .359,.281,.341,.243,.377,.302,.261,.324,.399,.273,.349,.234,.316,.284,.368,.255,.333,.293,.247,.386,
  .309,.266,.354,.227,.337,.281,.404,.296,.254,.372,.323,.241,.346,.286,.391,.263,.312,.358,.238,.331,
  .277,.382,.303,.251,.344,.294,.412,.267,.327,.373,.243,.316,.288,.361,.256,.398,.306,.339,.272,.351,
  .247,.328,.389,.283,.316,.364,.259,.342,.407,.296,.273,.353,.238,.334,.378,.304,.266,.392,.319,.287,
  .358,.251,.336,.411,.298,.374,.269,.326,.346,.284,.396,.257,.313,.367,.293,.338,.244,.384,.304,.352,
  .276,.413,.322,.263,.341,.379,.296,.354,.254,.331,.402,.287,.368,.311,.242,.346,.393,.274,.328,.361,
  .299,.384,.258,.337,.416,.306,.353,.269,.376,.322,.286,.404,.343,.261,.313,.371,.294,.389,.333,.252,
  .364,.308,.421,.278,.346,.391,.296,.328,.267,.381,.314,.354,.287,.408,.338,.273,.369,.302,.346,.258,
  .394,.323,.283,.416,.357,.306,.376,.264,.342,.398,.291,.334,.372,.277,.352,.311,.387,.298,.362,.281]

const W = 965, H = 469
const plotTop = 58.5, plotBottom = 429.5
const panels = [
  { left: 60.5, title: '2006 data', labels: true, x: obsX2006, y: obsY2006, lineAlpha: 0.36,
    bx: bandX2006, gl: gpLo2006, gh: gpHi2006, nl: nLo2006, nh: nHi2006, extra: null,
    gc: [gpCoreX2006, gpCoreLo2006, gpCoreHi2006], nc: [nCoreX2006, nCoreLo2006, nCoreHi2006] },
  { left: 547, title: 'bdb data', labels: false, lineAlpha: 0.55,
    x: obsXBdb.concat(denseXBdb, cloudXBdb), y: obsYBdb.concat(denseYBdb, cloudYBdb),
    bx: bandXBdb, gl: gpLoBdb, gh: gpHiBdb, nl: nLoBdb, nh: nHiBdb, extra: [extraXBdb, extraLoBdb, extraHiBdb],
    gc: [gpCoreXBdb, gpCoreLoBdb, gpCoreHiBdb], nc: [nCoreXBdb, nCoreLoBdb, nCoreHiBdb] }
]
const panelW = 405.5
const blue = '#1f77b4', orange = '#ff7f0e'

const svg = d3.select('#chart').append('svg')
  .attr('width', W)
  .attr('height', H)
  .style('display', 'block')

svg.append('text')
  .attr('x', 493)
  .attr('y', 24)
  .attr('text-anchor', 'middle')
  .attr('font-size', 16)
  .text('Modelled vs observed success rates')

panels.forEach(p => {
  let xScale = d3.scaleLinear().domain([-37, 800]).range([p.left, p.left + panelW])
  let yScale = d3.scaleLinear().domain([-0.033, 0.7016]).range([plotBottom, plotTop])
  let g = svg.append('g')

  //solid blocks first, the thin lines then roughen their edges
  let drawCore = (core, color, opacity) => {
    let area = d3.area()
      .x(i => xScale(core[0][i]))
      .y0(i => yScale(core[1][i]))
      .y1(i => yScale(core[2][i]))
    g.append('path')
      .attr('d', area(d3.range(core[0].length)))
      .attr('fill', color)
      .attr('opacity', opacity)
  }
  let drawLines = (xs, lo, hi, color) => {
    g.append('g').selectAll('line')
      .data(xs)
      .enter()
      .append('line')
      .attr('x1', d => xScale(d))
      .attr('x2', d => xScale(d))
      .attr('y1', (d, i) => yScale(lo[i]))
      .attr('y2', (d, i) => yScale(hi[i]))
      .attr('stroke', color)
      .attr('stroke-width', 2)
      .attr('stroke-opacity', p.lineAlpha)
  }

  drawCore(p.gc, blue, 0.88)
  drawLines(p.bx, p.gl, p.gh, blue)
  if (p.extra) drawLines(p.extra[0], p.extra[1], p.extra[2], blue)
  drawCore(p.nc, orange, 0.92)
  drawLines(p.bx, p.nl, p.nh, orange)

  g.append('g').selectAll('circle')
    .data(p.x)
    .enter()
    .append('circle')
    .attr('cx', d => xScale(d))
    .attr('cy', (d, i) => yScale(p.y[i]))
    .attr('r', 1.9)
    .attr('fill', '#000')

  //frame and axes
  g.append('rect')
    .attr('x', p.left)
    .attr('y', plotTop)
    .attr('width', panelW)
    .attr('height', plotBottom - plotTop)
    .attr('fill', 'none')
    .attr('stroke', '#000')
    .attr('stroke-width', 0.9)

  let xAxis = d3.axisBottom(xScale).tickValues(xTicks).tickSize(3.5).tickPadding(3.5).tickFormat(d3.format('d'))
  let xg = g.append('g').attr('transform', `translate(0,${plotBottom})`).call(xAxis)
  let yAxis = d3.axisLeft(yScale).tickValues(yTicks).tickSize(3.5).tickPadding(3.5)
    .tickFormat(p.labels ? d3.format('.1f') : '')
  let yg = g.append('g').attr('transform', `translate(${p.left},0)`).call(yAxis)
  ;[xg, yg].forEach(a => {
    a.select('.domain').remove()
    a.selectAll('text').attr('font-size', 12.5).attr('font-family', '"DejaVu Sans", sans-serif').attr('fill', '#000')
    a.selectAll('line').attr('stroke', '#000').attr('stroke-width', 0.8)
  })

  g.append('text')
    .attr('x', p.left + panelW / 2)
    .attr('y', 50.5)
    .attr('text-anchor', 'middle')
    .attr('font-size', 16)
    .text(p.title)
  g.append('text')
    .attr('x', p.left + panelW / 2)
    .attr('y', 467)
    .attr('text-anchor', 'middle')
    .attr('font-size', 13)
    .text('Attempts')
  let yLabelX = p.labels ? p.left - 39 : p.left - 13
  g.append('text')
    .attr('transform', `translate(${yLabelX},${(plotTop + plotBottom) / 2 + 4}) rotate(-90)`)
    .attr('text-anchor', 'middle')
    .attr('font-size', 13)
    .text('Success rate')

  //legend
  let lx = p.left + 183.5
  g.append('circle').attr('cx', lx + 14).attr('cy', 77).attr('r', 1.9).attr('fill', '#000')
  ;[blue, orange].forEach((c, i) => {
    g.append('line')
      .attr('x1', lx).attr('x2', lx + 28)
      .attr('y1', 97 + i * 20).attr('y2', 97 + i * 20)
      .attr('stroke', c).attr('stroke-width', 2).attr('stroke-opacity', 0.3)
  })
  legendLabels.forEach((t, i) => {
    g.append('text')
      .attr('x', lx + 38)
      .attr('y', 81.5 + i * 20)
      .attr('font-size', 13.4)
      .text(t)
  })
})
</script>
</body>
</html>
